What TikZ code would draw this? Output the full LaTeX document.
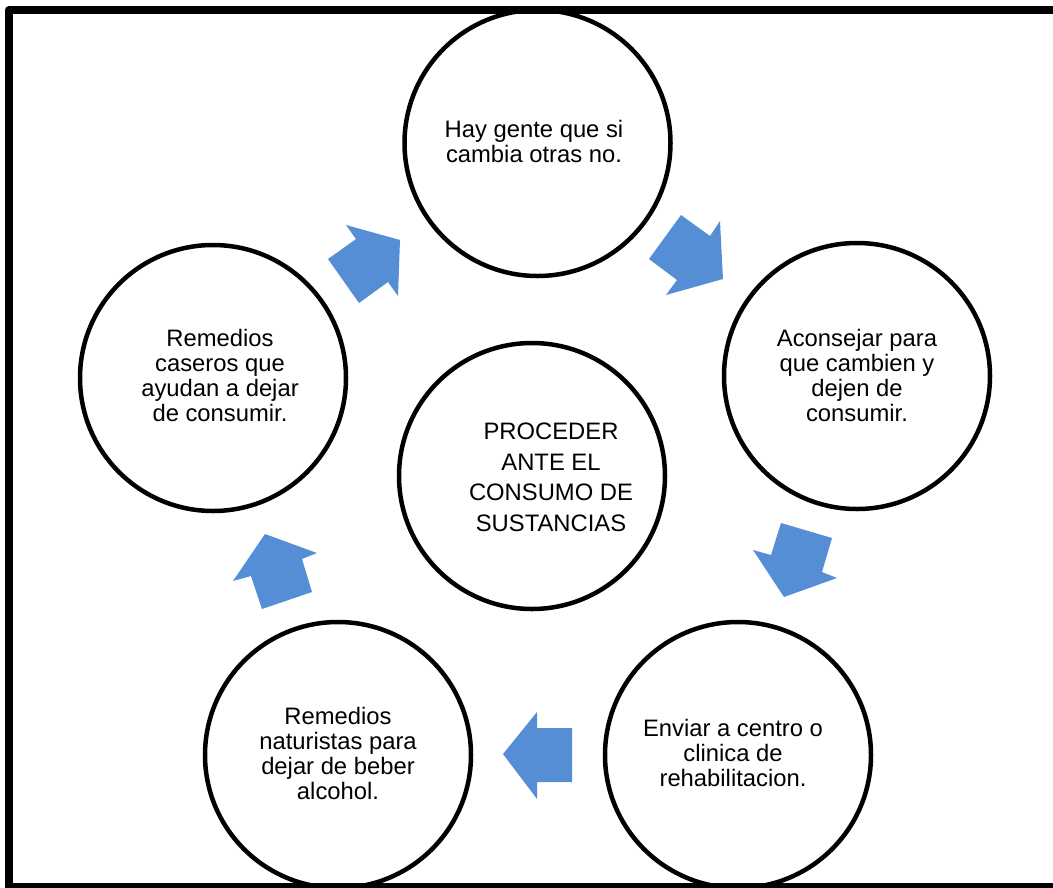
\documentclass[tikz,border=0pt]{standalone}
\usepackage{fontspec}
\setmainfont{Liberation Sans}
\definecolor{arrowblue}{RGB}{85,142,213}
\begin{document}
\begin{tikzpicture}[x=1pt,y=-1pt,
  ring/.style={circle,draw=black,line width=4.5pt,minimum size=266pt,inner sep=0pt},
  label22/.style={align=center,font=\fontsize{23.8}{25}\selectfont,inner sep=0pt},
  labelwide/.style={align=center,font=\fontsize{23.8}{30.5}\selectfont,inner sep=0pt},
  blockarrow/.style={fill=arrowblue,draw=none}]
\useasboundingbox (0,0) rectangle (1053,887);
\clip (0,0) rectangle (1053,887);
% outer frame (open towards the right and bottom page edges)
\draw[line width=8pt,line join=round] (1070,10) -- (9,10) -- (9,887) -- (1070,887);

% circles
\node[ring] (top)    at (537.5,143) {};
\node[ring] (right)  at (857,376) {};
\node[ring] (center) at (532,476) {};
\node[ring] (left)   at (213,378) {};
\node[ring] (botl)   at (338,755) {};
\node[ring] (botr)   at (738,755) {};

% texts
\node[label22] (ttop)   at (534,141.5) {Hay gente que si\\cambia otras no.};
\node[label22] (tright) at (857,375) {Aconsejar para\\que cambien y\\dejen de\\consumir.};
\node[labelwide] (tcenter) at (551,477.5) {PROCEDER\\ANTE EL\\CONSUMO DE\\SUSTANCIAS};
\node[label22] (tleft)  at (220,375) {Remedios\\caseros que\\ayudan a dejar\\de consumir.};
\node[label22] (tbotl)  at (338,753.5) {Remedios\\naturistas para\\dejar de beber\\alcohol.};
\node[label22] (tbotr)  at (733,753) {Enviar a centro o\\clinica de\\rehabilitacion.};

% block arrows between the circles
\fill[blockarrow] (356,239) -- (346,225) -- (400,240) -- (398,296) -- (388,282) -- (359,303) -- (328,259) -- cycle;
\fill[blockarrow] (681,215) -- (710,236) -- (720,221) -- (723,279) -- (666,295) -- (677,280) -- (649,259) -- cycle;
\fill[blockarrow] (781,523) -- (832,538) -- (822,572) -- (837,578) -- (784,597) -- (753,550) -- (771,555) -- cycle;
\fill[blockarrow] (572,728) -- (537,728) -- (537,712) -- (503,754) -- (537,799) -- (537,782) -- (572,782) -- cycle;
\fill[blockarrow] (265,534) -- (317,553) -- (302,559) -- (312,592) -- (262,609) -- (251,576) -- (233,581) -- cycle;
\end{tikzpicture}
\end{document}
